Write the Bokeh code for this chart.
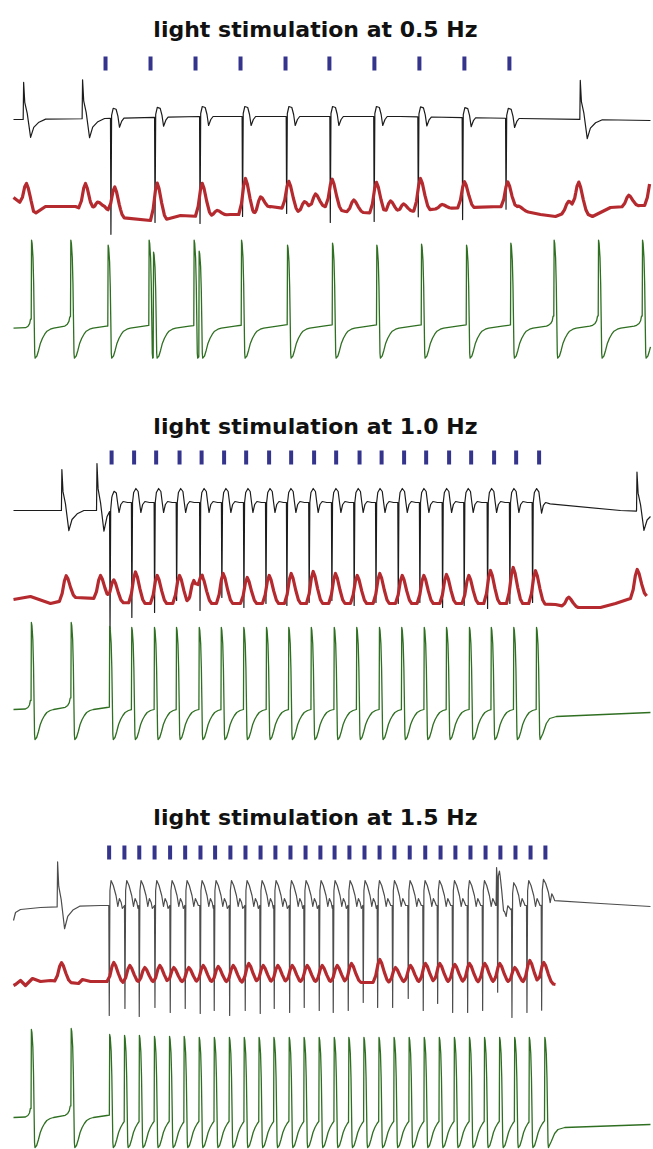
import numpy as np
from bokeh.plotting import figure
from bokeh.layouts import column
from bokeh.models import Range1d
from bokeh.embed import file_html
from bokeh.resources import INLINE
from bokeh.core.properties import value

# ---------------------------------------------------------------- data
# time in seconds, trace amplitudes in display units (up = positive)
TITLES = ["light stimulation at 0.5 Hz", "light stimulation at 1.0 Hz", "light stimulation at 1.5 Hz"]
T_END = 28.31

# ---- panel 1 (0.5 Hz)
P1_STIM = [4.09, 6.09, 8.09, 10.09, 12.09, 14.04, 16.04, 18.04, 20.04, 22.04]
P1_BK_BASE_T = [0.0, 4.0, 8.3, 17.2, 22.5, 28.31]
P1_BK_BASE_V = [-1, 0, 2, 2, 0, -2]
P1_BK_SPONT_T = [0.43, 3.05, 25.17]
P1_BK_SPONT_A = [37, 39, 39]
P1_BK_STIM_T = [4.31, 6.27, 8.27, 10.16, 12.12, 14.06, 16.01, 17.97, 19.94, 21.87]
P1_BK_DEPTH = [116, 105, 107, 100, 97, 106, 105, 100, 102, 91]
P1_RD_BASE_T = [0.0, 0.756, 0.889, 1.422, 2.756, 3.422, 4.044, 4.756, 6.089, 6.756, 7.422, 8.311,
                9.644, 10.756, 11.422, 12.089, 12.756, 13.867, 14.756, 16.311, 17.644, 18.978,
                20.311, 21.644, 23.422, 24.089, 24.978, 25.733, 26.533, 27.867, 28.311]
P1_RD_BASE_V = [10, -3, -7, 1, 1, -5, 0, -10, -13, -12, -8, -9, -7, -7, 1, -1, -5, 1, -4, -6,
                -4, -1, 0, 1, -7, -9, -1, -9, 0, 2, 2]
P1_RD_PEAK_T = [0.578, 3.2, 3.733, 4.502, 6.387, 8.387, 9.053, 10.311, 10.978, 12.236, 12.933,
                13.422, 14.164, 15.124, 16.133, 16.756, 17.333, 18.089, 19.053, 20.044, 21.969,
                22.458, 24.667, 25.124, 27.347, 28.35]
P1_RD_PEAK_A = [24, 27, 8, 27, 37, 33, 5, 36, 15, 28, 10, 15, 29, 12, 31, 12, 8, 32, 4, 26, 26,
                4, 10, 28, 11, 27]
P1_GR_T = [0.787, 2.533, 4.191, 6.013, 6.209, 8.013, 8.236, 10.12, 12.164, 14.164, 16.133,
           18.12, 20.12, 22.089, 24.013, 25.987, 27.942]
P1_GR_A = [88, 88, 83, 88, 76, 88, 77, 88, 83, 85, 83, 84, 83, 85, 88, 88, 88]
P1_GR_SPONT = [1, 1, 0, 0, 0, 0, 0, 0, 0, 0, 0, 0, 0, 0, 1, 1, 1]

# ---- panel 2 (1.0 Hz)
P2_STIM = [4.36, 5.36, 6.34, 7.38, 8.36, 9.36, 10.34, 11.36, 12.34, 13.36, 14.34, 15.38, 16.36,
           17.36, 18.34, 19.36, 20.34, 21.36, 22.34, 23.36]
P2_BK_BASE_T = [0.0, 3.867, 4.4, 23.2, 23.644, 26.978, 28.31]
P2_BK_BASE_V = [-8, -8, 0, 0, -1, -8, -9]
P2_BK_SPONT_T = [2.13, 3.69, 27.69]
P2_BK_SPONT_A = [41, 47, 39]
P2_BK_STIM_T = [4.27, 5.24, 6.25, 7.23, 8.27, 9.24, 10.22, 11.2, 12.13, 13.12, 14.13, 15.12,
                16.09, 17.08, 18.04, 19.05, 20.01, 21.05, 22.04, 23.05]
P2_BK_DEPTH = [118, 115, 110, 98, 108, 95, 105, 101, 103, 100, 98, 103, 100, 101, 100, 105, 103,
               106, 101, 100]
P2_RD_BASE_T = [0.0, 0.756, 1.644, 2.756, 3.644, 4.311, 4.756, 6.089, 22.978, 24.089, 24.756,
                26.089, 26.756, 27.422, 28.311]
P2_RD_BASE_V = [4, 7, 0, 6, 5, 5, 1, 0, 0, -1, -4, -4, 0, 5, 8]
P2_RD_PEAK_T = [2.342, 3.867, 4.458, 5.422, 6.387, 7.378, 8.013, 8.387, 9.32, 10.387, 11.364,
                12.342, 13.32, 14.311, 15.276, 16.28, 17.276, 18.236, 19.244, 20.236, 21.2,
                22.209, 23.2, 24.68, 27.72]
P2_RD_PEAK_A = [24, 23, 20, 31, 28, 28, 23, 27, 30, 26, 28, 30, 32, 30, 28, 30, 28, 28, 29, 28,
                33, 36, 33, 10, 28]
P2_GR_T = [0.78, 2.55, 4.26, 5.24, 6.25, 7.23, 8.24, 9.22, 10.22, 11.23, 12.22, 13.22, 14.24,
           15.24, 16.25, 17.24, 18.24, 19.23, 20.25, 21.22, 22.22, 23.23]
P2_GR_A = [87, 87, 83, 82, 82, 82, 82, 82, 82, 82, 82, 82, 82, 82, 82, 82, 82, 82, 82, 82, 82, 82]
P2_GR_SPONT = [1, 1] + [0] * 20
P2_GR_TAIL_T = [0.3, 0.45, 0.6, 0.9, 5.1]
P2_GR_TAIL_V = [-24, -14, -9, -7, -3]

# ---- panel 3 (1.5 Hz)
P3_STIM = [4.25, 4.93, 5.59, 6.27, 6.96, 7.63, 8.31, 8.96, 9.64, 10.31, 10.98, 11.64, 12.31,
           12.98, 13.64, 14.27, 14.93, 15.6, 16.27, 16.93, 17.61, 18.3, 18.98, 19.64, 20.31,
           20.98, 21.64, 22.31, 22.98, 23.64]
P3_BK_BASE_T = [0.0, 0.09, 0.31, 1.2, 3.87, 23.44, 23.96, 26.09, 28.31]
P3_BK_BASE_V = [-15, -7, -4, -2, 0, 0, 5, 2, -1]
P3_BK_SPONT_T = [1.94, 21.45]
P3_BK_SPONT_A = [45, 38]
P3_BK_STIM_T = [4.236, 4.933, 5.569, 6.267, 6.947, 7.613, 8.28, 8.902, 9.587, 10.28, 10.947,
                11.569, 12.253, 12.902, 13.569, 14.191, 14.858, 15.524, 16.164, 16.831, 17.524,
                18.191, 18.831, 19.498, 20.164, 20.831, 21.498, 22.133, 22.8, 23.453]
P3_BK_DEPTH = [110, 103, 111, 102, 107, 103, 108, 105, 110, 105, 108, 103, 107, 102, 105, 107,
               105, 97, 102, 102, 93, 105, 98, 107, 107, 105, 105, 109, 107, 105]
P3_RD_BASE_T = [0.0, 0.089, 0.311, 0.533, 0.844, 1.2, 1.644, 2.533, 2.889, 3.067, 3.422, 4.178,
                4.311, 23.644, 24.089, 28.311]
P3_RD_BASE_V = [-3, -2, 2, -3, 4, 1, 2, 0, -1, 3, 1, 1, 0, 0, -2, -2]
P3_RD_PEAK_T = [2.133, 4.458, 5.169, 5.836, 6.502, 7.124, 7.791, 8.431, 9.098, 9.764, 10.458,
                11.098, 11.747, 12.387, 13.053, 13.72, 14.387, 15.022, 16.28, 16.978, 17.644,
                18.311, 18.947, 19.613, 20.267, 20.947, 21.613, 22.28, 22.947, 23.569]
P3_RD_PEAK_A = [19, 20, 17, 15, 17, 15, 15, 17, 16, 17, 19, 17, 17, 17, 17, 17, 17, 19, 23, 15,
                17, 19, 19, 18, 19, 19, 19, 15, 22, 20]
P3_GR_T = [0.78, 2.55, 4.26, 4.92, 5.58, 6.25, 6.92, 7.57, 8.24, 8.91, 9.58, 10.24, 10.9, 11.56,
           12.24, 12.9, 13.57, 14.24, 14.89, 15.56, 16.23, 16.9, 17.57, 18.24, 18.91, 19.58,
           20.25, 20.92, 21.59, 22.26, 22.91, 23.6]
P3_GR_A = [88, 89, 83, 82, 82, 81, 81, 81, 80, 80, 80, 80, 80, 80, 80, 80, 80, 80, 80, 80, 80,
           80, 80, 80, 80, 80, 80, 80, 80, 80, 80, 80]
P3_GR_SPONT = [1, 1] + [0] * 30
P3_GR_TAIL_T = [0.3, 0.45, 0.6, 0.9, 4.7]
P3_GR_TAIL_V = [-24, -16, -12, -10, -7]

# ---- waveform templates (shape of one beat)
SPONT_DT = [0, 0.02, 0.07, 0.18, 0.33, 0.47, 0.7, 1.0]
SPONT_F = [0, 1.0, 0.46, 0.16, -0.49, -0.22, -0.08, 0]
STIM_DT = {
    1: [0, 0.02, 0.05, 0.12, 0.25, 0.33, 0.40, 0.5, 0.6],
    2: [0, 0.02, 0.05, 0.1, 0.2, 0.3, 0.36, 0.42, 0.5, 0.6, 0.8],
    3: [0, 0.02, 0.05, 0.1, 0.2, 0.32, 0.4, 0.47, 0.55, 0.6],
}
STIM_SHAPE = {
    1: [0, 0, 3, 10, 9, 2, -9, -3, 0],
    2: [0, 0, 0, 10, 14, 11, 0, -10, -2, 1, 0],
    3: [0, 0, 15, 25, 20, 10, -1, 7, 3, -3],
}
RED_DT = [-0.3, -0.18, -0.08, 0, 0.08, 0.2, 0.32, 0.42]
RED_F = [0, 0.3, 0.8, 1, 0.85, 0.45, 0.12, 0]
AP_DT = [0.015, 0.04, 0.08, 0.11, 0.13, 0.155, 0.175, 0.25, 0.33, 0.41, 0.5, 0.6, 0.7, 0.85,
         1.0, 1.6, 2.2, 3.0]
AP_REL = [1, 0.965, 0.8, 0.5, 0.15, 0, 0, 0, 0, 0, 0, 0, 0, 0, 0, 0, 0, 0]
AP_ABS = [0, 0, 0, 0, 0, -25, -30, -28, -22, -15, -10, -6, -3, -1, 0, 2, 4, 6]
FOOT_DT = [-0.25, -0.14, -0.07, -0.03]
FOOT_V = [0.5, 2, 4.5, 9]

# ---------------------------------------------------------------- layout / style
PANELS = [
    dict(fig_top=0, fig_bot=388, h=388, title_y=28.5, tick=(56, 70), bk_off=118, rd_off=207,
         gr_off=327.7, bk_col="#1c1c1c"),
    dict(fig_top=388, fig_bot=776, h=388, title_y=425.5, tick=(450, 464), bk_off=502,
         rd_off=603, gr_off=709, bk_col="#1c1c1c"),
    dict(fig_top=776, fig_bot=1149, h=373, title_y=816.5, tick=(845, 859), bk_off=905,
         rd_off=982, gr_off=1117, bk_col="#4d4d4d"),
]
X_RANGE = (-0.5778, 28.4444)
TITLE_X = 13.42
BLUE = "#34348c"
RED = "#b42a2f"
GREEN = "#2f6f22"


def sum_trace(base_t, base_v, events):
    pts = set(base_t)
    for te, dts, vs in events:
        pts.update(te + d for d in dts)
    ts = np.array(sorted(p for p in pts if 0 <= p <= T_END))
    v = np.interp(ts, base_t, base_v)
    for te, dts, vs in events:
        v = v + np.interp(ts - te, dts, vs, left=0, right=0)
    return ts, v


def black_trace(k, base_t, base_v, sp_t, sp_a, st_t, depth):
    ev = []
    for t, a in zip(sp_t, sp_a):
        ev.append((t, SPONT_DT, [a * f for f in SPONT_F]))
    for t, d in zip(st_t, depth):
        shape = list(STIM_SHAPE[k])
        shape[1] = -d
        ev.append((t, STIM_DT[k], shape))
    return sum_trace(base_t, base_v, ev)


def red_trace(base_t, base_v, pk_t, pk_a):
    ev = [(t, RED_DT, [a * f for f in RED_F]) for t, a in zip(pk_t, pk_a)]
    return sum_trace(base_t, base_v, ev)


def ap_trace(sp_t, sp_a, sp_flag, tail_t=None, tail_v=None):
    ts, vs = [0.0], [0.0]
    state = None

    def val(t):
        if state is None:
            return 0.0
        return float(np.interp(t, state[0], state[1]))

    n = len(sp_t)
    for i in range(n):
        t0, a, spont = sp_t[i], sp_a[i], sp_flag[i]
        if spont:
            for fd, fv in zip(FOOT_DT, FOOT_V):
                tt = t0 + fd
                if tt > ts[-1]:
                    ts.append(tt)
                    vs.append(val(tt) + fv)
        v0 = val(t0) + (FOOT_V[-1] if spont else 0)
        ts.append(t0)
        vs.append(v0)
        rel = [a * r + b for r, b in zip(AP_REL, AP_ABS)]
        if i == n - 1 and tail_t is not None:
            abs_t = [t0] + [t0 + d for d in AP_DT[:7]] + [t0 + d for d in tail_t]
            abs_v = [v0] + rel[:7] + list(tail_v)
        else:
            abs_t = [t0] + [t0 + d for d in AP_DT]
            abs_v = [v0] + rel
        state = (abs_t, abs_v)
        if i < n - 1:
            limit = sp_t[i + 1] + (FOOT_DT[0] if sp_flag[i + 1] else 0)
        else:
            limit = T_END
        for tt, vv in zip(abs_t[1:], abs_v[1:]):
            if tt < limit:
                ts.append(tt)
                vs.append(vv)
    if ts[-1] < T_END:
        ts.append(T_END)
        vs.append(val(T_END))
    return np.array(ts), np.array(vs)


DATA = [
    dict(stim=P1_STIM,
         bk=(1, P1_BK_BASE_T, P1_BK_BASE_V, P1_BK_SPONT_T, P1_BK_SPONT_A, P1_BK_STIM_T, P1_BK_DEPTH),
         rd=(P1_RD_BASE_T, P1_RD_BASE_V, P1_RD_PEAK_T, P1_RD_PEAK_A),
         gr=(P1_GR_T, P1_GR_A, P1_GR_SPONT, None, None)),
    dict(stim=P2_STIM,
         bk=(2, P2_BK_BASE_T, P2_BK_BASE_V, P2_BK_SPONT_T, P2_BK_SPONT_A, P2_BK_STIM_T, P2_BK_DEPTH),
         rd=(P2_RD_BASE_T, P2_RD_BASE_V, P2_RD_PEAK_T, P2_RD_PEAK_A),
         gr=(P2_GR_T, P2_GR_A, P2_GR_SPONT, P2_GR_TAIL_T, P2_GR_TAIL_V)),
    dict(stim=P3_STIM,
         bk=(3, P3_BK_BASE_T, P3_BK_BASE_V, P3_BK_SPONT_T, P3_BK_SPONT_A, P3_BK_STIM_T, P3_BK_DEPTH),
         rd=(P3_RD_BASE_T, P3_RD_BASE_V, P3_RD_PEAK_T, P3_RD_PEAK_A),
         gr=(P3_GR_T, P3_GR_A, P3_GR_SPONT, P3_GR_TAIL_T, P3_GR_TAIL_V)),
]

figs = []
for idx, (lay, dat) in enumerate(zip(PANELS, DATA)):
    p = figure(width=653, height=lay["h"],
               x_range=Range1d(*X_RANGE),
               y_range=Range1d(lay["fig_bot"], lay["fig_top"]),
               output_backend="svg", toolbar_location=None, min_border=0,
               x_axis_location=None, y_axis_location=None)
    p.grid.visible = False
    p.outline_line_color = None
    p.background_fill_color = "white"
    p.border_fill_color = "white"

    p.text(x=[TITLE_X], y=[lay["title_y"]], text=[TITLES[idx]], text_align="center",
           text_baseline="alphabetic", text_font=value("DejaVu Sans"),
           text_font_style="bold", text_font_size="22px", text_color="#111111")

    st = dat["stim"]
    p.segment(x0=st, x1=st, y0=[lay["tick"][0]] * len(st), y1=[lay["tick"][1]] * len(st),
              line_width=4, line_color=BLUE)

    bt, bv = black_trace(*dat["bk"])
    p.line(bt, lay["bk_off"] - bv, line_color=lay["bk_col"], line_width=1.2, line_join="round")

    rt, rv = red_trace(*dat["rd"])
    p.line(rt, lay["rd_off"] - rv, line_color=RED, line_width=3.2, line_join="round")

    gt, gv = ap_trace(*dat["gr"])
    p.line(gt, lay["gr_off"] - gv, line_color=GREEN, line_width=1.3, line_join="round")

    figs.append(p)

layout = column(*figs, spacing=0)
open("out.html", "w").write(file_html(layout, INLINE))
